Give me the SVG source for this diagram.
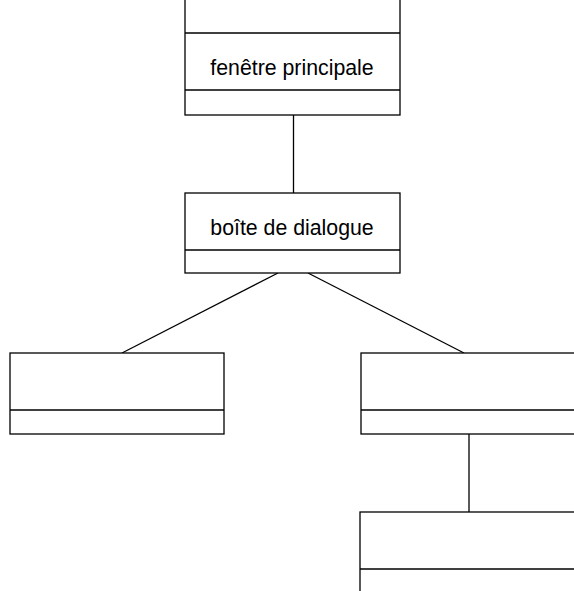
<svg xmlns="http://www.w3.org/2000/svg" width="574" height="591" viewBox="0 0 574 591">
<style>
.box{fill:#fff;stroke:#000;stroke-width:1.3}
.sep{stroke:#000;stroke-width:1.3}
.conn{stroke:#000;stroke-width:1.3;fill:none}
.lbl{font-family:"Liberation Sans",Arial,sans-serif;font-size:21.3px;fill:#000;text-anchor:middle}
</style>
<rect width="574" height="591" fill="#fff"/>
<g id="connectors">
<line class="conn" x1="293.5" y1="115" x2="293.5" y2="193"/>
<line class="conn" x1="278" y1="273" x2="122" y2="353"/>
<line class="conn" x1="308" y1="273" x2="464" y2="353"/>
<line class="conn" x1="469" y1="434" x2="469" y2="512"/>
</g>
<g id="fenetre-principale">
<rect class="box" x="185" y="-10" width="215" height="125"/>
<line class="sep" x1="185" y1="33" x2="400" y2="33"/>
<line class="sep" x1="185" y1="90" x2="400" y2="90"/>
<text class="lbl" x="292" y="75">fenêtre principale</text>
</g>
<g id="boite-de-dialogue">
<rect class="box" x="185" y="193" width="215" height="80"/>
<line class="sep" x1="185" y1="250" x2="400" y2="250"/>
<text class="lbl" x="292" y="235">boîte de dialogue</text>
</g>
<g id="left-class">
<rect class="box" x="10" y="353" width="214" height="81"/>
<line class="sep" x1="10" y1="410" x2="224" y2="410"/>
</g>
<g id="right-class">
<rect class="box" x="361" y="353" width="220" height="81"/>
<line class="sep" x1="361" y1="410" x2="581" y2="410"/>
</g>
<g id="bottom-class">
<rect class="box" x="360" y="512" width="220" height="100"/>
<line class="sep" x1="360" y1="569" x2="580" y2="569"/>
</g>
</svg>
